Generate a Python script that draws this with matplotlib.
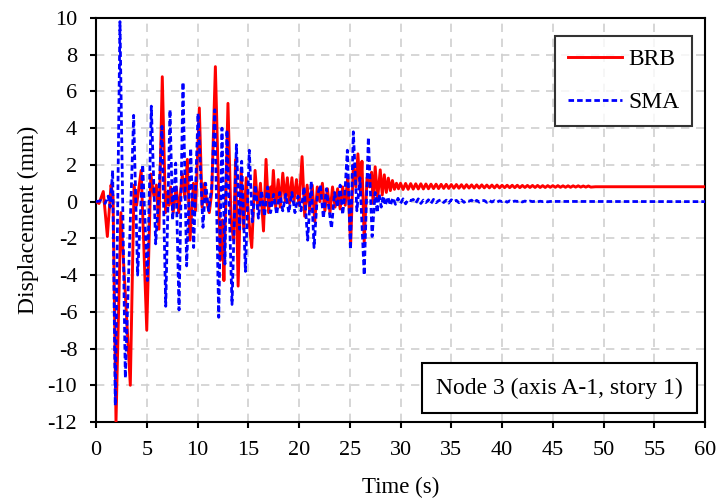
import numpy as np
import matplotlib
matplotlib.use("Agg")
import matplotlib.pyplot as plt

# ---------------- data ----------------
brb_t = [0.0, 0.3, 0.72, 1.12, 1.48, 1.68, 1.97, 2.45, 3.38, 3.75, 4.0, 4.45, 5.0,
         5.4, 5.7, 5.95, 6.2, 6.53, 6.85, 7.0, 7.2, 7.35, 7.6, 7.9, 8.15, 8.5, 8.75,
         9.0, 9.26, 9.6, 9.8, 10.18, 10.45, 10.7, 10.9, 11.16, 11.4, 11.76, 12.25,
         12.45, 12.6, 13.0, 13.3, 13.55, 13.75, 14.0, 14.3, 14.55, 14.8, 15.05, 15.34,
         15.67, 15.95, 16.2, 16.5, 16.75, 17.0, 17.2, 17.3, 17.47, 17.7, 17.95, 18.15,
         18.4, 18.65, 18.85, 19.05, 19.3, 19.5, 19.75, 20.0, 20.3, 20.56, 20.8, 21.05,
         21.3, 21.55, 21.8, 22.05, 22.3, 22.55, 22.8, 23.05, 23.3, 23.55, 23.8, 24.05,
         24.3, 24.55, 24.8, 25.08, 25.35, 25.6, 25.8, 26.05, 26.2, 26.42, 26.7, 26.95,
         27.15, 27.3, 27.5, 27.75, 28.0, 28.2, 28.4, 28.6, 28.8, 29.0, 29.2, 29.4,
         29.6, 29.8]
brb_v = [0.0, -0.1, 0.55, -1.9, 0.9, 0.3, -12.0, -0.6, -10.0, 0.9, -0.2, 1.7, -7.0,
         1.5, 0.3, 0.9, -1.5, 6.8, -0.6, 0.5, -0.2, 0.8, -0.6, 0.8, -0.6, 1.5, 0.2,
         2.3, -2.1, 1.0, -0.5, 5.1, -0.3, 1.0, 0.0, -0.6, 0.5, 7.35, -3.2,
         -1.0, -4.3, 5.35, -1.0, -2.1, 2.3, -4.6, 1.8, -1.5, 1.3, -1.0, -2.5,
         1.7, -0.4, 1.0, -1.6, 2.3, -0.6, 0.8, -0.2, 1.7, -0.3, 1.2, -0.3,
         1.55, 0.0, 1.3, -0.1, 1.3, 0.0, 1.2, -0.2, 2.45, -0.8, 0.9, -0.5,
         0.9, -1.1, 0.8, 0.0, 1.0, -0.5, 0.7, -0.6, 0.8, -0.3, 0.7, -0.4,
         0.8, -0.2, 1.4, -2.4, 2.0, 0.8, 2.6, 0.5, 2.2, -2.2, 1.3, 0.8,
         1.6, -0.1, 1.9, 0.18, 1.73, 0.36, 1.46, 0.5, 1.28, 0.6, 1.15, 0.67,
         1.0, 0.7]
# BRB free-vibration tail (30 s - 49 s): successive peaks and troughs
brb_tail_peaks = [1.00, 0.99, 0.98, 0.97, 0.97, 0.96, 0.95, 0.95, 0.94, 0.94, 0.93,
                  0.93, 0.92, 0.92, 0.91, 0.91, 0.91, 0.90, 0.90, 0.90, 0.89, 0.89,
                  0.89, 0.89, 0.88, 0.88, 0.88, 0.88, 0.87, 0.87, 0.87, 0.87, 0.86,
                  0.86, 0.86, 0.86, 0.85, 0.85]
brb_tail_troughs = [0.66, 0.67, 0.68, 0.69, 0.69, 0.70, 0.71, 0.71, 0.72, 0.72, 0.73,
                    0.73, 0.73, 0.74, 0.74, 0.74, 0.75, 0.75, 0.75, 0.75, 0.76, 0.76,
                    0.76, 0.76, 0.77, 0.77, 0.77, 0.77, 0.77, 0.78, 0.78, 0.78, 0.78,
                    0.78, 0.79, 0.79, 0.79, 0.79]
brb_end_t = [49.2, 60.0]
brb_end_v = [0.81, 0.81]

sma_t = [0.0, 0.5, 0.9, 1.2, 1.4, 1.64, 1.9, 2.36, 2.89, 3.71, 4.1, 4.6, 5.06, 5.45,
         5.88, 6.2, 6.5, 6.87, 7.29, 7.55, 7.85, 8.18, 8.57, 8.93, 9.33, 9.62, 10.05,
         10.54, 10.8, 11.1, 11.4, 11.7, 12.09, 12.41, 12.7, 12.9, 13.4, 13.83, 14.15,
         14.35, 14.72, 15.1, 15.4, 15.7, 16.0, 16.3, 16.6, 16.9, 17.2, 17.5, 17.8,
         18.1, 18.4, 18.7, 19.0, 19.3, 19.6, 19.9, 20.2, 20.5, 20.85, 21.2, 21.48,
         21.8, 22.1, 22.4, 22.7, 22.95, 23.2, 23.5, 23.8, 24.05, 24.3, 24.5, 24.76,
         25.06, 25.35, 25.7, 26.0, 26.42, 26.83, 27.2, 27.5, 27.7, 27.9, 28.1, 28.3,
         28.5]
sma_v = [0.0, 0.05, -0.1, 0.3, -0.3, 1.7, -11.1, 9.8, -9.6, 4.7, -4.0, 2.0, -4.3, 5.2,
         -2.3, 0.5, 4.1, -5.7, 5.0, -1.0, 2.1, -5.9, 6.5, -3.5, 2.9, -2.5, 4.8,
         -1.4, 1.0, -0.5, 0.8, 5.0, -6.3, 4.0, -3.4, 3.9, -5.6, 3.1, -1.5,
         2.2, -3.8, 2.8, -1.1, 0.9, -0.9, 0.6, -0.8, 0.8, -0.6, 0.4, -0.7,
         0.5, -0.5, 0.4, -0.6, 0.5, -0.6, 0.3, -0.5, 0.8, -2.1, 1.1, -2.5,
         0.3, 0.9, -0.9, 0.7, -0.4, -1.45, 0.5, -0.3, 0.9, -0.7, 0.3, 2.8,
         -2.6, 3.8, -0.5, 1.3, -4.0, 3.5, -1.9, 0.5, -0.6, 0.4, -0.3, 0.3,
         -0.2]
# SMA residual wiggle after 28.5 s (sampled every 0.25 s)
sma_tail_v = [0.25, -0.2, 0.2, -0.15, 0.18, -0.1, 0.15, -0.12, 0.1, 0.05, 0.12, -0.08,
              0.15, -0.1, 0.08, -0.05, 0.1, -0.1, 0.12, -0.06, 0.05, 0.1, -0.05, 0.08,
              -0.08, 0.1, 0.0, 0.07, -0.06, 0.09, -0.04, 0.06, 0.02, 0.08, -0.05, 0.07,
              -0.03, 0.05, 0.06, -0.04, 0.06, -0.02, 0.05, -0.03, 0.04, 0.0, 0.05, -0.03,
              0.04, -0.02, 0.03, 0.01, 0.04, -0.02, 0.03, -0.01, 0.03, 0.0, 0.02, -0.01,
              0.02, 0.0, 0.02, -0.01, 0.01]
sma_end_t = [60.0]
sma_end_v = [0.0]

x_ticks = [0, 5, 10, 15, 20, 25, 30, 35, 40, 45, 50, 55, 60]
y_ticks = [-12, -10, -8, -6, -4, -2, 0, 2, 4, 6, 8, 10]

# ---------------- assemble series ----------------
brb_tail_v = []
for p, q in zip(brb_tail_peaks, brb_tail_troughs):
    brb_tail_v += [p, q]
brb_tail_t = list(30.0 + 0.25 * np.arange(len(brb_tail_v)))
brb_time = np.array(brb_t + brb_tail_t + brb_end_t)
brb_disp = np.array(brb_v + brb_tail_v + brb_end_v)

sma_tail_t = list(28.75 + 0.25 * np.arange(len(sma_tail_v)))
sma_time = np.array(sma_t + sma_tail_t + sma_end_t)
sma_disp = np.array(sma_v + sma_tail_v + sma_end_v)

# ---------------- plot ----------------
plt.rcParams['font.family'] = ['Liberation Serif', 'DejaVu Serif']
plt.rcParams['axes.unicode_minus'] = False
fig = plt.figure(figsize=(7.18, 4.99), dpi=100)
ax = fig.add_axes([0.1337, 0.1543, 0.8483, 0.8097])

ax.plot(brb_time, brb_disp, color='#ff0000', lw=2.1, label='BRB', zorder=3)
ax.plot(sma_time, sma_disp, color='#0000ff', lw=2.0, ls=(0, (2.0, 1.1)),
        label='SMA', zorder=4)

ax.set_xlim(0, 60)
ax.set_ylim(-12, 10)
ax.set_xticks(x_ticks)
ax.set_yticks(y_ticks)
ax.tick_params(direction='out', length=4.5, width=1.5, labelsize=16, color='black')
ax.tick_params(axis='x', pad=9)
ax.tick_params(axis='y', pad=9)
ax.grid(True, color='#d0d0d0', ls=(0, (5, 4)), lw=1.2)
ax.set_axisbelow(True)
for s in ax.spines.values():
    s.set_linewidth(1.5)
    s.set_color('black')

ax.set_xlabel('Time (s)', fontsize=16.5, labelpad=12)
ax.set_ylabel('Displacement (mm)', fontsize=17, labelpad=6)

leg = ax.legend(loc='upper right', bbox_to_anchor=(0.9787, 0.9554), fontsize=17,
                frameon=True, fancybox=False, edgecolor='black', handlelength=2.3,
                borderpad=0.55, labelspacing=0.9, handletextpad=0.25,
                borderaxespad=0.0)
leg.get_frame().set_linewidth(1.5)

ax.text(0.9639, 0.058, 'Node 3 (axis A-1, story 1)', transform=ax.transAxes,
        ha='right', va='bottom', fontsize=17,
        bbox=dict(boxstyle='square,pad=0.6', fc='white', ec='black', lw=1.5))

fig.savefig('out.png', dpi=100)
